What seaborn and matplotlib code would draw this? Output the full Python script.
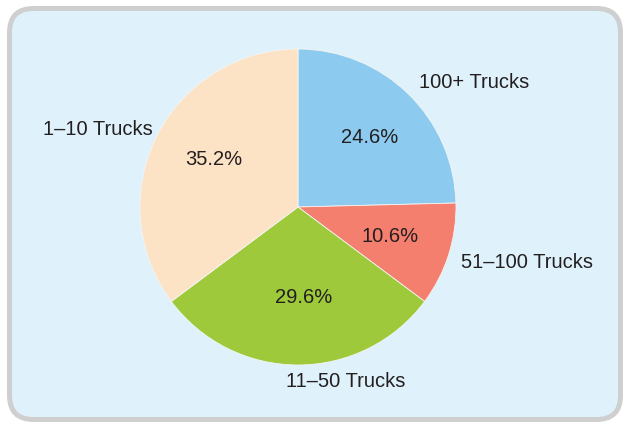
import matplotlib.pyplot as plt
import numpy as np
import seaborn as sns
from matplotlib.patches import FancyBboxPatch
from matplotlib.transforms import IdentityTransform

# Data
categories = ['100+ Trucks', '51–100 Trucks', '11–50 Trucks', '1–10 Trucks']
shares = [24.6, 10.6, 29.6, 35.2]
colors = ['#8ccbef', '#f47f6e', '#9dc93b', '#fde3c6']

# label layout (distance in radii, alignment, pixel nudge)
label_dist = [1.1, 1.08, 1.08, 1.03]
label_ha = ['left', 'left', 'center', 'right']
label_nudge = [(0, 0), (0, -4), (48, -4), (0, 5)]
pct_dist = [0.63, 0.61, 0.57, 0.6]
pct_nudge = [(2, -2), (0, 0), (6, 0), (0, 5)]

sns.set_theme(style='white')
plt.rcParams['font.family'] = ['Liberation Sans', 'DejaVu Sans']

fig = plt.figure(figsize=(6.25, 4.25), dpi=100)
fig.patch.set_facecolor('white')

# rounded light-blue panel, drawn behind the pie
panel = FancyBboxPatch((9.5, 5.5), 611, 411,
                       boxstyle='round,pad=0,rounding_size=24',
                       facecolor='#dff2fb', edgecolor='#cfcfcf', linewidth=3.6,
                       transform=IdentityTransform(), zorder=-5)
fig.add_artist(panel)

ax = fig.add_axes([0.224, 0.1412, 0.5056, 0.7435])
ax.set_zorder(2)
wedges, _ = ax.pie(shares, colors=colors, startangle=90, counterclock=False,
                   wedgeprops=dict(edgecolor='#f4f4f4', linewidth=0.6))
ax.set_xlim(-1, 1)
ax.set_ylim(-1, 1)
ax.set_aspect('equal')
ax.set_facecolor('none')
ax.axis('off')

text_color = '#231f20'
for i, w in enumerate(wedges):
    mid = np.deg2rad((w.theta1 + w.theta2) / 2)
    cx, cy = np.cos(mid), np.sin(mid)
    ax.annotate(categories[i], (label_dist[i] * cx, label_dist[i] * cy),
                xytext=label_nudge[i], textcoords='offset pixels',
                ha=label_ha[i], va='center', fontsize=14.5, color=text_color,
                annotation_clip=False)
    ax.annotate(f'{shares[i]:.1f}%', (pct_dist[i] * cx, pct_dist[i] * cy),
                xytext=pct_nudge[i], textcoords='offset pixels',
                ha='center', va='center', fontsize=14.5, color=text_color,
                annotation_clip=False)

fig.savefig('out.png', dpi=100)
